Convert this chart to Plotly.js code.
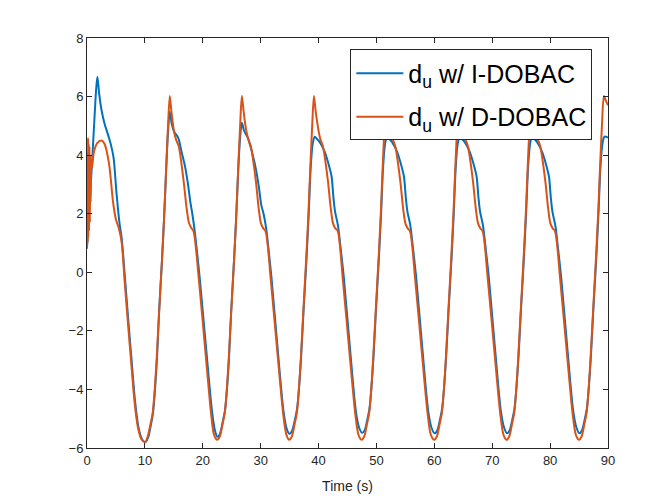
<!DOCTYPE html>
<html>
<head>
<meta charset="utf-8">
<script src="https://cdn.plot.ly/plotly-3.0.1.min.js"></script>
<style>
  html, body { margin: 0; padding: 0; background: #fff; }
  #plotDiv { width: 671px; height: 503px; }
</style>
</head>
<body>
<div id="plotDiv"></div>
<script>
// d_u with I-DOBAC (blue)
var tBlue = [
  0, 0.5, 0.9, 1.3, 1.6, 1.8, 2.1, 2.5, 3.0, 3.7, 4.2, 4.6, 5.1, 5.6, 6.0,
  6.6, 7.2, 7.7, 8.3, 8.9, 9.5, 10.1,
  10.55, 11.0, 11.4, 11.75, 12.1, 12.45, 12.95, 13.35, 13.7, 14.0, 14.3, 14.65, 15.05, 15.75, 16.35, 16.95,
  17.45, 17.85, 18.15, 18.55, 18.95, 19.45, 20.6, 21.6, 22.1, 22.55,
  23.0, 23.45, 23.85, 24.2, 24.55, 24.9, 25.4, 25.8, 26.15, 26.45, 26.75, 27.1, 27.8, 28.5, 29.1,
  29.7, 30.1, 30.5, 30.95, 31.35, 31.85, 32.95, 33.95, 34.5, 35.0,
  35.45, 35.9, 36.3, 36.65, 37.0, 37.4, 37.9, 38.3, 38.65, 39.0, 39.35, 39.75, 40.15, 41.05, 41.65,
  42.25, 42.55, 42.85, 43.35, 43.8, 44.35, 45.45, 46.45, 47.0, 47.5,
  47.95, 48.4, 48.8, 49.15, 49.5, 49.9, 50.4, 50.8, 51.15, 51.5, 51.85, 52.25, 52.65, 53.55, 54.15,
  54.75, 55.05, 55.35, 55.85, 56.3, 56.85, 57.95, 58.95, 59.5, 60.05,
  60.5, 60.95, 61.35, 61.7, 62.05, 62.45, 62.95, 63.35, 63.7, 64.05, 64.4, 64.8, 65.2, 66.1, 66.7,
  67.3, 67.6, 67.9, 68.4, 68.85, 69.4, 70.5, 71.5, 72.05, 72.55,
  73.0, 73.45, 73.85, 74.2, 74.55, 74.95, 75.45, 75.85, 76.2, 76.55, 76.9, 77.3, 77.7, 78.6, 79.2,
  79.8, 80.1, 80.4, 80.9, 81.35, 81.9, 83.0, 84.0, 84.55, 85.05,
  85.5, 85.95, 86.35, 86.7, 87.05, 87.45, 87.95, 88.35, 88.7, 89.05, 89.4, 90.0
];
var dBlue = [
  0.85, 2.5, 3.85, 5.3, 6.3, 6.68, 6.1, 5.55, 5.1, 4.65, 4.3, 3.9, 2.7, 1.7, 1.15,
  -0.3, -1.8, -3.0, -4.4, -5.3, -5.7, -5.8,
  -5.65, -5.25, -4.8, -4.0, -2.9, -1.35, 0.4, 2.0, 3.6, 4.8, 5.48, 5.05, 4.8, 4.6, 4.1, 3.6,
  3.0, 2.4, 2.05, 1.5, 0.8, -0.15, -2.65, -4.75, -5.4, -5.62,
  -5.5, -5.1, -4.7, -3.95, -2.85, -1.35, 0.4, 2.0, 3.6, 4.6, 5.11, 4.85, 4.58, 4.1, 3.6,
  2.9, 2.3, 2.0, 1.5, 0.8, -0.15, -2.65, -4.75, -5.35, -5.52,
  -5.4, -5.05, -4.65, -3.9, -2.85, -1.35, 0.4, 2.0, 3.6, 4.4, 4.63, 4.55, 4.46, 4.12, 3.75,
  3.27, 2.6, 2.07, 1.6, 0.85, -0.15, -2.65, -4.75, -5.3, -5.48,
  -5.4, -5.05, -4.65, -3.9, -2.85, -1.35, 0.4, 2.0, 3.6, 4.4, 4.63, 4.55, 4.46, 4.12, 3.75,
  3.27, 2.6, 2.07, 1.6, 0.85, -0.15, -2.65, -4.75, -5.3, -5.5,
  -5.4, -5.05, -4.65, -3.9, -2.85, -1.35, 0.4, 2.0, 3.6, 4.4, 4.63, 4.55, 4.46, 4.12, 3.75,
  3.27, 2.6, 2.07, 1.6, 0.85, -0.15, -2.65, -4.75, -5.3, -5.5,
  -5.4, -5.05, -4.65, -3.9, -2.85, -1.35, 0.4, 2.0, 3.6, 4.4, 4.63, 4.55, 4.46, 4.12, 3.75,
  3.27, 2.6, 2.07, 1.6, 0.85, -0.15, -2.65, -4.75, -5.3, -5.5,
  -5.4, -5.05, -4.65, -3.9, -2.85, -1.35, 0.4, 2.0, 3.6, 4.4, 4.63, 4.6
];

// d_u with D-DOBAC (orange)
var tOrange = [
  0, 0.06, 0.12, 0.18, 0.24, 0.3, 0.36, 0.43, 0.5, 0.57, 0.64, 0.72, 0.85,
  1.2, 1.8, 2.5, 3.0, 3.8, 4.5, 5.0, 5.5, 6.0, 6.5, 7.1, 7.6, 8.2, 8.8, 9.4, 10.05,
  10.5, 10.95, 11.35, 11.7, 12.05, 12.45, 12.95, 13.35, 13.7, 14.0, 14.3, 14.6, 15.0, 15.4, 15.85,
  16.7, 17.2, 17.6, 18.0, 18.4, 19.3, 20.45, 21.45, 21.95, 22.5,
  22.95, 23.4, 23.8, 24.15, 24.5, 24.9, 25.4, 25.8, 26.15, 26.45, 26.75, 27.05, 27.45, 27.85, 28.3,
  29.15, 29.65, 30.05, 30.45, 30.85, 31.75, 32.9, 33.9, 34.45, 34.95,
  35.4, 35.85, 36.25, 36.6, 36.95, 37.35, 37.85, 38.25, 38.6, 38.9, 39.2, 39.5, 39.9, 40.3, 40.75,
  41.6, 42.1, 42.5, 42.9, 43.3, 44.2, 45.35, 46.35, 46.9, 47.45,
  47.9, 48.35, 48.75, 49.1, 49.45, 49.85, 50.35, 50.75, 51.1, 51.4, 51.7, 52.0, 52.4, 52.8, 53.25,
  54.1, 54.6, 55.0, 55.4, 55.8, 56.7, 57.85, 58.85, 59.4, 60.0,
  60.45, 60.9, 61.3, 61.65, 62.0, 62.4, 62.9, 63.3, 63.65, 63.95, 64.25, 64.55, 64.95, 65.35, 65.8,
  66.65, 67.15, 67.55, 67.95, 68.35, 69.25, 70.4, 71.4, 71.95, 72.5,
  72.95, 73.4, 73.8, 74.15, 74.5, 74.9, 75.4, 75.8, 76.15, 76.45, 76.75, 77.05, 77.45, 77.85, 78.3,
  79.15, 79.65, 80.05, 80.45, 80.85, 81.75, 82.9, 83.9, 84.45, 85.0,
  85.45, 85.9, 86.3, 86.65, 87.0, 87.4, 87.9, 88.3, 88.65, 88.95, 89.3, 89.65, 90.0
];
var dOrange = [
  0.8, 4.1, 1.0, 4.6, 1.2, 4.4, 1.4, 4.3, 1.7, 4.0, 2.4, 3.8, 3.55,
  4.12, 4.42, 4.5, 4.4, 3.72, 2.4, 1.8, 1.5, 1.0, -0.3, -1.8, -3.0, -4.4, -5.3, -5.7, -5.8,
  -5.6, -5.2, -4.8, -4.0, -2.9, -1.4, 0.4, 2.0, 3.7, 5.0, 6.02, 5.45, 4.85, 4.52, 4.3,
  3.1, 2.2, 1.7, 1.52, 1.4, -0.2, -2.7, -4.85, -5.55, -5.72,
  -5.6, -5.2, -4.8, -4.0, -2.9, -1.4, 0.4, 2.0, 3.7, 5.0, 6.02, 5.5, 4.9, 4.55, 4.3,
  3.15, 2.2, 1.67, 1.5, 1.4, -0.26, -2.76, -4.85, -5.55, -5.72,
  -5.6, -5.2, -4.8, -4.0, -2.9, -1.4, 0.4, 2.0, 3.7, 5.0, 6.02, 5.5, 4.95, 4.55, 4.3,
  3.15, 2.2, 1.67, 1.5, 1.42, -0.26, -2.76, -4.85, -5.55, -5.72,
  -5.6, -5.2, -4.8, -4.0, -2.9, -1.4, 0.4, 2.0, 3.7, 5.0, 6.02, 5.5, 4.9, 4.55, 4.3,
  3.15, 2.2, 1.67, 1.5, 1.4, -0.26, -2.76, -4.85, -5.55, -5.72,
  -5.6, -5.2, -4.8, -4.0, -2.9, -1.4, 0.4, 2.0, 3.7, 5.0, 6.02, 5.5, 4.9, 4.55, 4.3,
  3.15, 2.2, 1.67, 1.5, 1.4, -0.26, -2.76, -4.85, -5.55, -5.72,
  -5.6, -5.2, -4.8, -4.0, -2.9, -1.4, 0.4, 2.0, 3.7, 5.0, 6.02, 5.5, 4.9, 4.55, 4.3,
  3.15, 2.2, 1.67, 1.5, 1.4, -0.26, -2.76, -4.85, -5.55, -5.72,
  -5.6, -5.2, -4.8, -4.0, -2.9, -1.4, 0.4, 2.0, 3.7, 5.0, 6.02, 5.85, 5.7
];

var xTicks = [0, 10, 20, 30, 40, 50, 60, 70, 80, 90];
var yTicks = [-6, -4, -2, 0, 2, 4, 6, 8];

var axisColor = '#262626';
var font = 'Liberation Sans, Arial, Helvetica, sans-serif';

var data = [
  {
    type: 'scatter',
    mode: 'lines',
    x: tBlue,
    y: dBlue,
    name: 'd<sub>u</sub> w/ I-DOBAC',
    legendgroup: 'a',
    line: { color: '#0072BD', width: 2, shape: 'spline', smoothing: 0.8 }
  },
  {
    type: 'scatter',
    mode: 'lines',
    x: tOrange,
    y: dOrange,
    name: 'd<sub>u</sub> w/ D-DOBAC',
    legendgroup: 'b',
    line: { color: '#D95319', width: 2, shape: 'spline', smoothing: 0.8 }
  }
];

var layout = {
  width: 671,
  height: 503,
  margin: { l: 87, r: 63, t: 38, b: 55 },
  paper_bgcolor: '#fff',
  plot_bgcolor: '#fff',
  font: { family: font, color: axisColor, size: 13 },
  xaxis: {
    range: [0, 90],
    tickvals: xTicks,
    ticks: 'inside',
    ticklen: 5,
    tickcolor: axisColor,
    showline: true,
    linecolor: axisColor,
    linewidth: 1,
    mirror: 'ticks',
    showgrid: false,
    zeroline: false,
    title: { text: 'Time (s)', font: { size: 14, color: axisColor }, standoff: 14 }
  },
  yaxis: {
    range: [-6, 8],
    tickvals: yTicks,
    ticks: 'inside',
    ticklen: 5,
    tickcolor: axisColor,
    showline: true,
    linecolor: axisColor,
    linewidth: 1,
    mirror: 'ticks',
    showgrid: false,
    zeroline: false
  },
  showlegend: true,
  legend: {
    x: 0.5055,
    y: 0.972,
    xanchor: 'left',
    yanchor: 'top',
    bgcolor: '#fff',
    bordercolor: axisColor,
    borderwidth: 1,
    font: { size: 25, color: '#000', family: font },
    itemwidth: 47,
    tracegroupgap: 8
  }
};

Plotly.newPlot('plotDiv', data, layout, { displayModeBar: false, staticPlot: true });
</script>
</body>
</html>
